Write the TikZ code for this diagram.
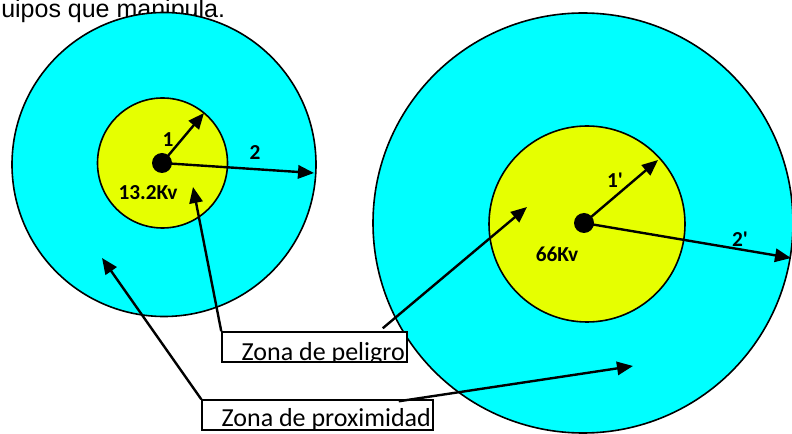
\documentclass[tikz,border=0pt]{standalone}
\usepackage{fontspec}
\setmainfont{Carlito}
\newfontfamily\arialfont{Liberation Sans}
\usetikzlibrary{arrows.meta}
\usetikzlibrary{shapes}

\definecolor{zonecyan}{RGB}{0,255,255}
\definecolor{zoneyellow}{RGB}{230,255,0}

\newcommand{\boxfont}{\fontsize{19.5}{22}\selectfont}

\tikzset{
  zonecircle/.style={circle, draw=black, line width=1.2pt, inner sep=0pt},
  centredot/.style={circle, fill=black, inner sep=0pt, minimum size=15pt},
  pointer/.style={line width=1.8pt, -{Triangle[length=12pt,width=10pt]}},
  radiuslabel/.style={font=\fontsize{16}{18}\selectfont\bfseries, inner sep=0pt},
  zonebox/.style={draw=black, line width=1.1pt, fill=white, inner sep=0pt, minimum height=22.5pt},
}

\begin{document}
\begin{tikzpicture}[x=0.75pt,y=0.75pt,yscale=-1,xscale=1]
\useasboundingbox (0,0) rectangle (792,434);

% Text Node
\node (heading) [anchor=base west, inner sep=0pt, font=\arialfont\fontsize{18.75}{20}\selectfont] at (1,18) {uipos que manipula.};

%Shape: Circle [13.2Kv]
\node (outerA) [zonecircle, fill=zonecyan, minimum size=228pt] at (164,164.5) {};
\node (innerA) [zonecircle, fill=zoneyellow, minimum size=97.5pt] at (162.5,163) {};
\node (dotA) [centredot] at (162,163) {};

%Shape: Circle [66Kv]
\node (outerB) [zonecircle, fill=zonecyan, minimum size=315pt] at (583,223) {};
\node (innerB) [zonecircle, fill=zoneyellow, minimum size=147pt] at (587,224) {};
\node (dotB) [centredot] at (584,223) {};

% Text Node
\node (peligro) [zonebox, minimum width=138.75pt, path picture={
  \node [anchor=base west, inner sep=0pt, font=\boxfont] at ([xshift=6pt,yshift=1.5pt]path picture bounding box.south west) {Zona de peligro};
}] at (314.5,347) {};
% Text Node
\node (proximidad) [zonebox, minimum width=173.25pt, path picture={
  \node [anchor=base west, inner sep=0pt, font=\boxfont] at ([xshift=6pt,yshift=2.8pt]path picture bounding box.south west) {Zona de proximidad};
}] at (317.5,415) {};

\coordinate (pelR) at ([xshift=-18.75pt,yshift=-2.25pt]peligro.north east);
\coordinate (proxR) at ([xshift=-26.25pt,yshift=1.5pt]proximidad.north east);

\coordinate (tipA1) at (204,113);
\coordinate (tipA2) at (314,173);
\coordinate (tipB1) at (658,160);
\coordinate (tipB2) at (791,258);
\coordinate (tipPelA) at (193,187);
\coordinate (tipPelB) at (527,207);
\coordinate (tipProxA) at (102,258);
\coordinate (tipProxB) at (633,366);

% Arrows
\draw [pointer] (dotA.center) -- (tipA1);
\draw [pointer] (dotA.center) -- (tipA2);
\draw [pointer] (dotB.center) -- (tipB1);
\draw [pointer] (dotB.center) -- (tipB2);
\draw [pointer] (peligro.north west) -- (tipPelA);
\draw [pointer] (pelR) -- (tipPelB);
\draw [pointer] (proximidad.north west) -- (tipProxA);
\draw [pointer] (proxR) -- (tipProxB);

% Text Node
\node (labA1) [radiuslabel] at (168,140) {1};
\node (labA2) [radiuslabel] at (255,153) {2};
\node (voltA) [radiuslabel] at (148,193) {13.2Kv};
\node (labB1) [radiuslabel] at (615,180) {1\textquotesingle};
\node (labB2) [radiuslabel] at (740,239) {2\textquotesingle};
\node (voltB) [radiuslabel] at (557,254) {66Kv};

\end{tikzpicture}
\end{document}
